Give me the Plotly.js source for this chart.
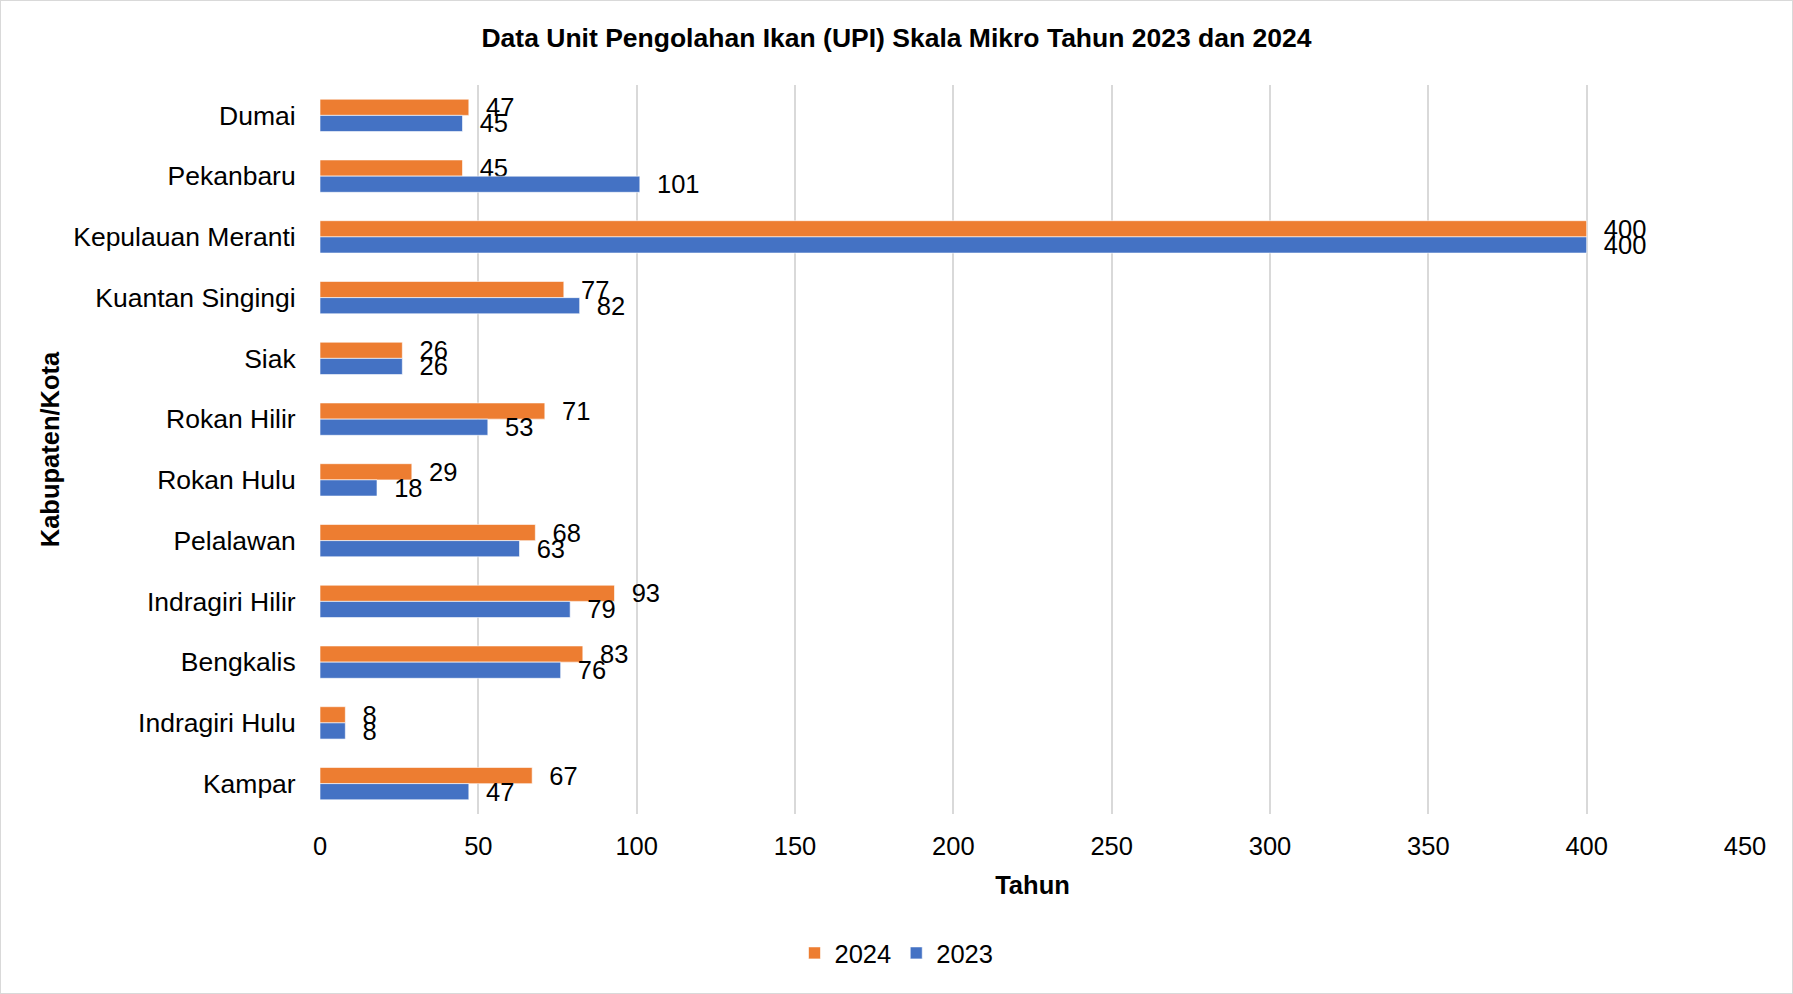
<!DOCTYPE html>
<html>
<head>
<meta charset="utf-8">
<script src="https://cdn.plot.ly/plotly-3.0.1.min.js"></script>
<style>
html,body{margin:0;padding:0;background:#fff;}
#chart{width:1793px;height:994px;box-sizing:border-box;border:1px solid #d9d9d9;}
</style>
</head>
<body>
<div id="chart"></div>
<script>
const categories = ["Dumai","Pekanbaru","Kepulauan Meranti","Kuantan Singingi","Siak","Rokan Hilir","Rokan Hulu","Pelalawan","Indragiri Hilir","Bengkalis","Indragiri Hulu","Kampar"];
const values2024 = [47,45,400,77,26,71,29,68,93,83,8,67];
const values2023 = [45,101,400,82,26,53,18,63,79,76,8,47];
const xTicks = [0,50,100,150,200,250,300,350,400,450];

const font = "Liberation Sans, Arial, sans-serif";
const pad = "\u00a0\u00a0";

function series(name, vals, color){
  return {
    type: "bar", orientation: "h", name: name,
    y: categories, x: vals,
    marker: {color: color, line: {color: "rgba(255,255,255,0.6)", width: 1}},
    text: vals.map(v => pad + v),
    textposition: "outside",
    textfont: {family: font, size: 25.5, color: "#000"},
    constraintext: "none",
    cliponaxis: false,
    hoverinfo: "x+y"
  };
}

const data = [
  series("2024", values2024, "#ED7D31"),
  series("2023", values2023, "#4472C4")
];

const layout = {
  width: 1791, height: 992,
  margin: {l: 319, r: 47, t: 84, b: 179},
  paper_bgcolor: "#fff", plot_bgcolor: "#fff",
  font: {family: font, color: "#000"},
  title: {text: "<b>Data Unit Pengolahan Ikan (UPI) Skala Mikro Tahun 2023 dan 2024</b>",
          font: {family: font, size: 26.5, color: "#000"},
          x: 0.5, xref: "container", xanchor: "center", y: 0.963, yref: "container", yanchor: "middle"},
  barmode: "group", bargap: 0.467, bargroupgap: 0,
  xaxis: {
    range: [0, 450], tickvals: xTicks, ticktext: xTicks.map(String),
    showgrid: true, gridcolor: "#d9d9d9", gridwidth: 2, zeroline: false, showline: false,
    ticks: "outside", ticklen: 9, tickcolor: "rgba(0,0,0,0)",
    tickfont: {family: font, size: 25.5, color: "#000"},
    title: {text: "<b>Tahun</b>", font: {family: font, size: 25.5, color: "#000"}, standoff: 17}
  },
  yaxis: {
    type: "category", autorange: "reversed",
    showgrid: false, zeroline: false, showline: false,
    ticks: "outside", ticklen: 18, tickcolor: "rgba(0,0,0,0)",
    tickfont: {family: font, size: 26.5, color: "#000"},
    title: {text: "<b>Kabupaten/Kota</b>", font: {family: font, size: 25.5, color: "#000"}, standoff: 6}
  },
  showlegend: true,
  legend: {orientation: "h", x: 0.5, xref: "container", xanchor: "center", y: 0.04, yref: "container", yanchor: "middle",
           font: {family: font, size: 25.5, color: "#000"}, itemwidth: 30, traceorder: "normal"}
};

Plotly.newPlot("chart", data, layout, {displayModeBar: false, staticPlot: true});
</script>
</body>
</html>
